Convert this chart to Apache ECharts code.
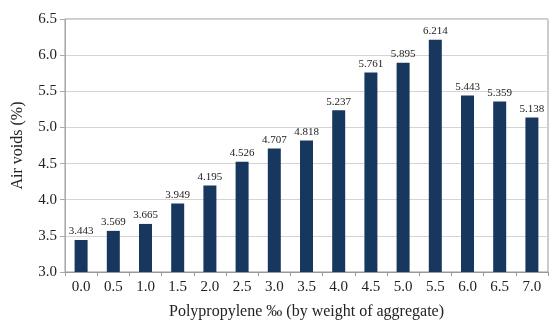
<!DOCTYPE html>
<html><head><meta charset="utf-8">
<script src="https://cdn.jsdelivr.net/npm/echarts@6/dist/echarts.min.js"></script>
<style>html,body{margin:0;padding:0;background:#fff}#c{width:557px;height:325px}</style>
</head><body><div id="c"></div>
<script>
const categories = ['0.0','0.5','1.0','1.5','2.0','2.5','3.0','3.5','4.0','4.5','5.0','5.5','6.0','6.5','7.0'];
const airVoids = [3.443,3.569,3.665,3.949,4.195,4.526,4.707,4.818,5.237,5.761,5.895,6.214,5.443,5.359,5.138];
const yTicks = {min:3.0, max:6.5, interval:0.5};
const F = '"Liberation Serif","DejaVu Serif",serif';
const chart = echarts.init(document.getElementById('c'));
chart.setOption({
  animation:false,
  grid:{left:65,right:9,top:19,bottom:49,containLabel:false,show:true,borderColor:'#999',borderWidth:1},
  xAxis:{type:'category',data:categories,
    name:'Polypropylene ‰ (by weight of aggregate)',nameLocation:'middle',nameGap:32,
    nameTextStyle:{fontFamily:F,fontSize:16,color:'#222'},
    axisLine:{lineStyle:{color:'#999'}},
    axisTick:{show:true,alignWithLabel:false,length:4,lineStyle:{color:'#999'}},
    axisLabel:{fontFamily:F,fontSize:15,color:'#222',margin:8}},
  yAxis:{type:'value',min:yTicks.min,max:yTicks.max,interval:yTicks.interval,
    name:'Air voids (%)',nameLocation:'middle',nameGap:39,
    nameTextStyle:{fontFamily:F,fontSize:16,color:'#222'},
    axisLine:{show:true,lineStyle:{color:'#aaa'}},
    axisTick:{show:true,length:5,lineStyle:{color:'#aaa'}},
    axisLabel:{fontFamily:F,fontSize:15,color:'#222',margin:8,formatter:v=>v.toFixed(1)},
    splitLine:{lineStyle:{color:'#d4d4d4'}}},
  series:[{type:'bar',data:airVoids,barWidth:13,
    itemStyle:{color:'#17375e'},
    label:{show:true,position:'top',distance:3,fontFamily:F,fontSize:11,color:'#222',formatter:p=>p.value.toFixed(3)}}]
});
</script></body></html>
